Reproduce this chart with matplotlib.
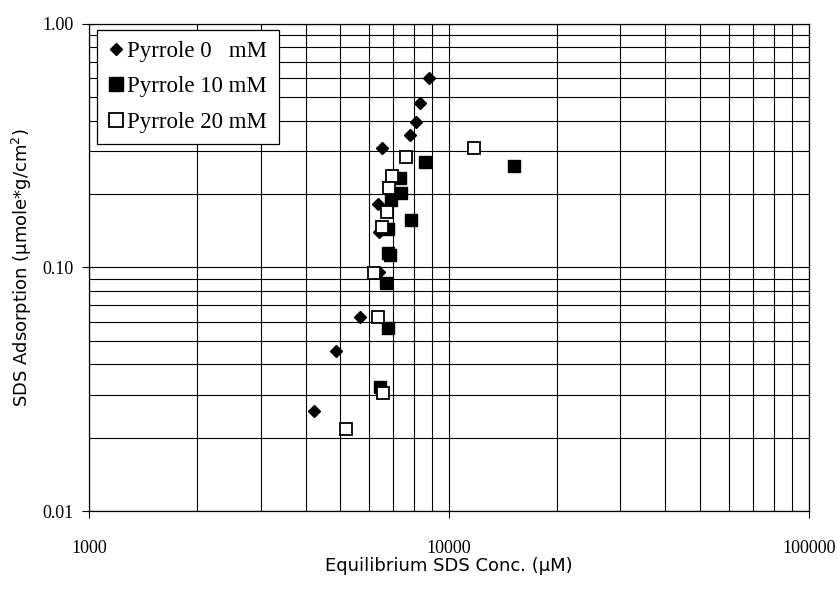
import matplotlib
matplotlib.use("Agg")
import matplotlib.pyplot as plt
from matplotlib.ticker import LogLocator, FixedLocator, NullFormatter

# Pyrrole 0 mM
p0_x = [8816, 8345, 8085, 7793, 6543, 6377, 6404, 6404, 5660, 4876, 4217]
p0_y = [0.598, 0.475, 0.395, 0.351, 0.310, 0.182, 0.140, 0.0958, 0.0628, 0.0455, 0.0257]

# Pyrrole 10 mM
p10_x = [8596, 15225, 7310, 7357, 6932, 7843, 6800, 6790, 6870, 6714, 6800, 6459]
p10_y = [0.270, 0.261, 0.232, 0.203, 0.189, 0.157, 0.144, 0.115, 0.113, 0.0866, 0.0564, 0.0322]

# Pyrrole 20 mM
p20_x = [11757, 7597, 6976, 6830, 6742, 6543, 6191, 6377, 6570, 5175]
p20_y = [0.310, 0.285, 0.238, 0.211, 0.169, 0.147, 0.0947, 0.0624, 0.0306, 0.0218]

x_ticks = [1000, 10000, 100000]
y_ticks = [0.01, 0.1, 1.0]
y_labels = ["0.01", "0.10", "1.00"]

fig = plt.figure(figsize=(8.38, 5.95), dpi=100)
ax = fig.add_axes([0.106, 0.141, 0.859, 0.819])

ax.set_xscale("log")
ax.set_yscale("log")
ax.set_xlim(1000, 100000)
ax.set_ylim(0.01, 1.0)

ax.plot(p0_x, p0_y, linestyle="none", marker="D", markersize=6,
        color="black", label="Pyrrole 0   mM", zorder=3)
ax.plot(p10_x, p10_y, linestyle="none", marker="s", markersize=9,
        color="black", label="Pyrrole 10 mM", zorder=3)
ax.plot(p20_x, p20_y, linestyle="none", marker="s", markersize=9,
        markerfacecolor="white", markeredgecolor="black", markeredgewidth=1.3,
        label="Pyrrole 20 mM", zorder=3)

ax.xaxis.set_major_locator(FixedLocator(x_ticks))
ax.xaxis.set_minor_locator(LogLocator(base=10, subs=range(2, 10)))
ax.xaxis.set_minor_formatter(NullFormatter())
ax.set_xticklabels([str(v) for v in x_ticks])
ax.yaxis.set_major_locator(FixedLocator(y_ticks))
ax.yaxis.set_minor_locator(LogLocator(base=10, subs=range(2, 10)))
ax.yaxis.set_minor_formatter(NullFormatter())
ax.set_yticklabels(y_labels)

ax.grid(True, which="both", color="black", linewidth=0.8)
ax.set_axisbelow(True)
ax.tick_params(which="major", direction="out", length=5, width=0.8, pad=6,
               labelsize=13)
ax.tick_params(which="minor", length=0)
ax.tick_params(axis="x", pad=16)
for lab in ax.get_xticklabels() + ax.get_yticklabels():
    lab.set_family("Liberation Serif")

for s in ax.spines.values():
    s.set_color("black")
    s.set_linewidth(0.9)

ax.set_xlabel("Equilibrium SDS Conc. (\u00b5M)", fontsize=13,
              family="DejaVu Sans", labelpad=0)
ax.set_ylabel("SDS Adsorption (\u00b5mole*g/cm$^2$)", fontsize=13,
              family="DejaVu Sans", labelpad=6)

leg = ax.legend(loc="upper left", bbox_to_anchor=(0.012, 0.988),
                prop={"family": "Liberation Serif", "size": 16.5},
                frameon=True, fancybox=False, framealpha=1,
                edgecolor="black", handlelength=0.6, handletextpad=0.2,
                borderpad=0.5, labelspacing=0.62, borderaxespad=0,
                markerscale=1.1)
leg.get_frame().set_linewidth(0.9)

fig.savefig("out.png", dpi=100)
